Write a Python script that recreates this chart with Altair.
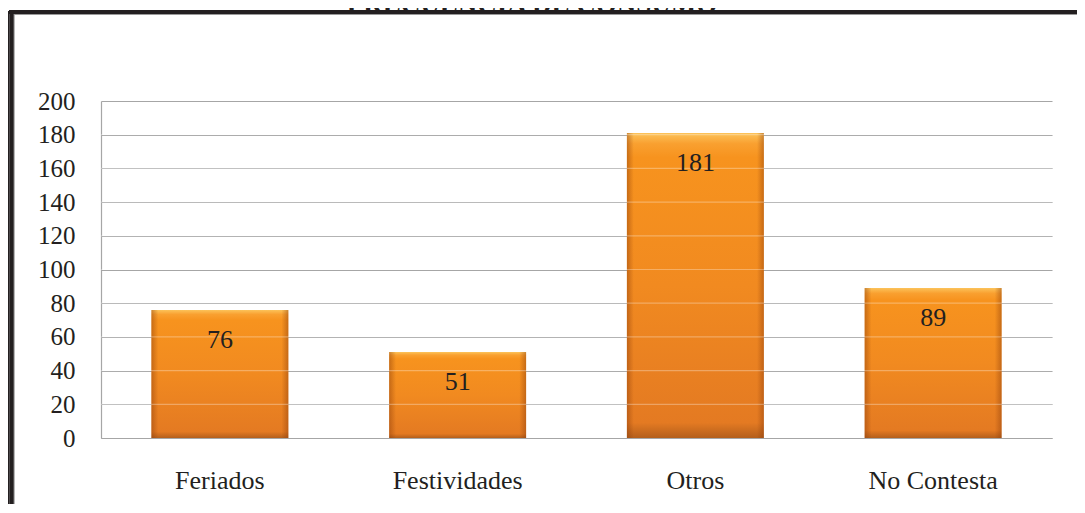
import altair as alt
import pandas as pd

categories = ["Feriados", "Festividades", "Otros", "No Contesta"]
values = [76, 51, 181, 89]
y_ticks = [0, 20, 40, 60, 80, 100, 120, 140, 160, 180, 200]
inner_grid = [20, 40, 60, 80, 100, 120, 140, 160, 180]
title_text = "FRECUENCIA DE CONSUMO"

df = pd.DataFrame({"cat": categories, "val": values})
grid_df = pd.DataFrame({"val": inner_grid})
one = pd.DataFrame({"a": [0]})

FONT = "Liberation Serif"
W, H = 951, 337

xs = alt.X("cat:N", sort=categories, title=None,
           scale=alt.Scale(paddingInner=0.424, paddingOuter=0.212),
           axis=alt.Axis(labelFont=FONT, labelFontSize=26, labelColor="#231f20",
                         labelAngle=0, labelBaseline="alphabetic", labelPadding=50,
                         ticks=False, domainColor="#a6a6a6", domainWidth=1.2, grid=False))
ys = alt.Y("val:Q", title=None,
           scale=alt.Scale(domain=[0, 200], nice=False),
           axis=alt.Axis(values=y_ticks, labelFont=FONT, labelFontSize=25, labelColor="#231f20",
                         labelPadding=26, labelOverlap=False, labelBound=False, ticks=False,
                         domainColor="#a6a6a6", domainWidth=1.2,
                         grid=True, gridColor="#a6a6a6", gridWidth=1.2))

vgrad = alt.Gradient(gradient="linear", x1=0, y1=0, x2=0, y2=1, stops=[
    alt.GradientStop(offset=0, color="#fcc35a"),
    alt.GradientStop(offset=0.035, color="#f9a030"),
    alt.GradientStop(offset=0.08, color="#f7931e"),
    alt.GradientStop(offset=0.5, color="#f18a20"),
    alt.GradientStop(offset=0.95, color="#e47a22"),
    alt.GradientStop(offset=1, color="#b45f1c"),
])
hgrad = alt.Gradient(gradient="linear", x1=0, y1=0, x2=1, y2=0, stops=[
    alt.GradientStop(offset=0, color="rgba(140,60,10,0.45)"),
    alt.GradientStop(offset=0.05, color="rgba(140,60,10,0)"),
    alt.GradientStop(offset=0.95, color="rgba(140,60,10,0)"),
    alt.GradientStop(offset=1, color="rgba(140,60,10,0.45)"),
])

bars = alt.Chart(df).mark_bar(fill=vgrad).encode(x=xs, y=ys)
bars_edge = alt.Chart(df).mark_bar(fill=hgrad).encode(x=xs, y=ys)

grid_over = alt.Chart(grid_df).mark_rule(color="white", opacity=0.3, strokeWidth=1.2).encode(
    y=ys, x=alt.value(0), x2=alt.value(W))

labels = alt.Chart(df).mark_text(font=FONT, fontSize=26, color="#231f20", baseline="middle", dy=30).encode(
    x=xs, y=ys, text="val:Q")

title = alt.Chart(one).mark_text(font=FONT, fontSize=27, fontWeight="bold", color="#231f20",
                                 baseline="alphabetic", align="center").encode(
    x=alt.value(431), y=alt.value(-88), text=alt.value(title_text))

frame_left = alt.Chart(one).mark_rule(color="#231f20", strokeWidth=4.5).encode(
    x=alt.value(-89.5), y=alt.value(-91), y2=alt.value(H + 200))
frame_left_thin = alt.Chart(one).mark_rule(color="#231f20", strokeWidth=1.5).encode(
    x=alt.value(-92.5), y=alt.value(-90), y2=alt.value(H + 200))
frame_top = alt.Chart(one).mark_rule(color="#231f20", strokeWidth=4.2).encode(
    y=alt.value(-89), x=alt.value(-92), x2=alt.value(W + 200))
frame_top_shadow = alt.Chart(one).mark_rule(color="#9a9a9a", strokeWidth=1).encode(
    y=alt.value(-86.5), x=alt.value(-87), x2=alt.value(W + 200))
frame_left_shadow = alt.Chart(one).mark_rule(color="#9a9a9a", strokeWidth=1).encode(
    x=alt.value(-86.8), y=alt.value(-87), y2=alt.value(H + 200))

chart = alt.layer(
    bars, bars_edge, grid_over, labels, title,
    frame_top_shadow, frame_left_shadow, frame_left, frame_left_thin, frame_top
).properties(
    width=W, height=H,
    autosize=alt.AutoSizeParams(type="none"),
    padding={"left": 93, "top": 93, "right": 25, "bottom": 66},
    background="white",
).configure_view(stroke=None).configure_axis(labelOverlap=False)

chart.save("out.html", embed_options={"renderer": "svg", "actions": False})
